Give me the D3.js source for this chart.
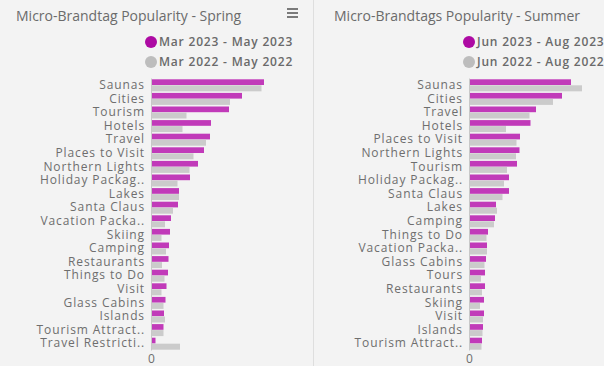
<!DOCTYPE html>
<html><head><meta charset="utf-8">
<script src="https://cdn.jsdelivr.net/npm/d3@7"></script>
<style>
html,body{margin:0;padding:0;background:#f3f3f3;}
svg{display:block;font-family:"Open Sans",sans-serif;}
</style></head><body>
<svg id="c" width="604" height="366"></svg>
<script>
const springCategories = ["Saunas","Cities","Tourism","Hotels","Travel","Places to Visit","Northern Lights","Holiday Packag..","Lakes","Santa Claus","Vacation Packa..","Skiing","Camping","Restaurants","Things to Do","Visit","Glass Cabins","Islands","Tourism Attract..","Travel Restricti.."];
const spring2023 = [113,91,78,60,59,53,47,39,28,27,20,19,18,17.5,17,15.5,14.5,13,12.5,4.5];
const spring2022 = [110.5,79,35.5,31.5,55,42.5,38.5,26.5,28,22,14,10.5,15,11,13.5,10.5,12.5,14,12.5,29];
const summerCategories = ["Saunas","Cities","Travel","Hotels","Places to Visit","Northern Lights","Tourism","Holiday Packag..","Santa Claus","Lakes","Camping","Things to Do","Vacation Packa..","Glass Cabins","Tours","Restaurants","Skiing","Visit","Islands","Tourism Attract.."];
const summer2023 = [102,93,67,61.5,51,50.5,48,40,40,27,26,19,18,17,16,16,15,15,14,13];
const summer2022 = [113,84,60.5,37,47.5,47,38,35,33.5,28,25,17.5,18,15.5,12,13,11,14,13.5,12.5];
const xTicks = [0];

const panels = [
  {x0:0, titleX:16, title:"Micro-Brandtag Popularity - Spring", leg:["Mar 2023 - May 2023","Mar 2022 - May 2022"], cats:springCategories, a:spring2023, b:spring2022, axisX:151, menu:true},
  {x0:313, titleX:334, title:"Micro-Brandtags Popularity - Summer", leg:["Jun 2023 - Aug 2023","Jun 2022 - Aug 2022"], cats:summerCategories, a:summer2023, b:summer2022, axisX:469, menu:false}
];

const svg = d3.select("#c");
svg.append("line").attr("x1",313.5).attr("x2",313.5).attr("y1",0).attr("y2",366).attr("stroke","#dedede");

const MAG = "#c13ab9", GRY = "#cbcbcb";

panels.forEach(p=>{
  const g = svg.append("g");
  g.append("text").attr("x", p.titleX).attr("y",21).attr("font-size",14).attr("fill","#6b6b6b").text(p.title);
  if(p.menu){
    [9,13,17].forEach(yy=>g.append("rect").attr("x",287).attr("y",yy-1).attr("width",11).attr("height",2).attr("fill","#7a7a7a"));
  }
  const legColors = ["#ad0aa3","#bdbdbd"];
  p.leg.forEach((t,i)=>{
    const yy = 42 + i*20;
    g.append("circle").attr("cx",p.axisX).attr("cy",yy).attr("r",6).attr("fill",legColors[i]);
    g.append("text").attr("x",p.axisX+8).attr("y",yy+4.3).attr("font-size",12).attr("font-weight",600)
      .attr("letter-spacing",0.8).attr("fill","#6a6a6a").text(t);
  });
  const y = d3.scaleBand().domain(p.cats).range([78,350]);
  const x = d3.scaleLinear().domain([0,150]).range([p.axisX, p.axisX+150]);
  const bh = 6;
  p.cats.forEach((c,i)=>{
    const cy = y(c)+y.bandwidth()/2 + 0.5;
    g.append("rect").attr("x",x(0)).attr("y",cy-bh).attr("width",x(p.a[i])-x(0)).attr("height",bh-0.3).attr("fill",MAG);
    g.append("rect").attr("x",x(0)).attr("y",cy).attr("width",x(p.b[i])-x(0)).attr("height",bh).attr("fill",GRY);
  });
  const ya = d3.axisLeft(y).tickSize(0).tickPadding(6);
  const ag = g.append("g").attr("transform",`translate(${p.axisX},0)`).call(ya);
  ag.select(".domain").attr("stroke","#c8c8c8");
  ag.selectAll("text").attr("font-size",12).attr("letter-spacing",0.9).attr("fill","#6e6e6e").attr("font-family","Open Sans").attr("dy","0.35em");
  const xa = d3.axisBottom(x).tickValues(xTicks).tickSize(0).tickPadding(4);
  const xg = g.append("g").attr("transform",`translate(0,350)`).call(xa);
  xg.select(".domain").remove();
  xg.selectAll("text").attr("font-size",12).attr("fill","#6e6e6e").attr("font-family","Open Sans");
});
</script></body></html>
